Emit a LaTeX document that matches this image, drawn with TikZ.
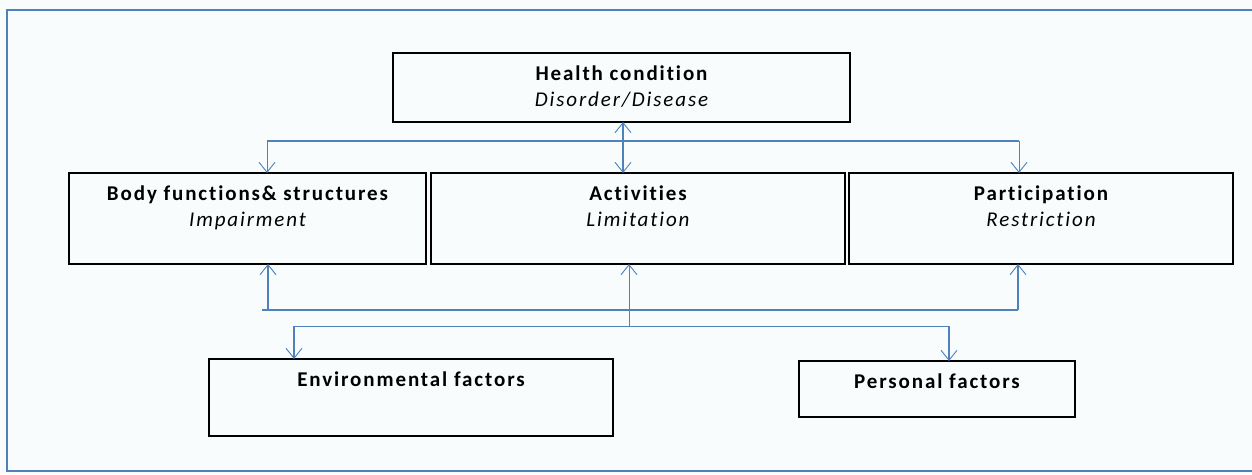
\documentclass[tikz,border=0pt]{standalone}
\usepackage{fontspec}
\setmainfont{Carlito}[LetterSpace=9,Ligatures=NoCommon]
\usetikzlibrary{arrows.meta,calc}
\definecolor{lnblue}{RGB}{79,129,189}
\definecolor{bgc}{RGB}{248,252,253}
\tikzset{
  box/.style={draw=black,line width=1.8pt,anchor=north west,inner sep=0pt,outer sep=0pt},
  ttl/.style={anchor=base,font=\fontsize{21}{24}\selectfont\bfseries,inner sep=0pt},
  sub/.style={anchor=base,font=\fontsize{21}{24}\selectfont\itshape,inner sep=0pt},
  conn/.style={draw=lnblue,line width=1.4pt},
  thinconn/.style={draw=lnblue,line width=0.9pt},
  tip/.style={-{Straight Barb[length=10pt,width=16pt,line width=0.9pt]}},
  dtip/.style={{Straight Barb[length=10pt,width=16pt,line width=0.9pt]}-{Straight Barb[length=10pt,width=16pt,line width=0.9pt]}}
}
\begin{document}
\begin{tikzpicture}[x=1pt,y=-1pt]
\useasboundingbox (0,0) rectangle (1252,474);
\fill[bgc] (0,0) rectangle (1252,474);
\draw[lnblue,line width=2.5pt] (7,10) rectangle (1262,471);
% boxes
\node[box,minimum width=457pt,minimum height=69pt] (health) at (393,53) {};
\node[box,minimum width=357pt,minimum height=91pt] (body) at (69,173) {};
\node[box,minimum width=414pt,minimum height=91pt] (act) at (431,173) {};
\node[box,minimum width=384pt,minimum height=91pt] (part) at (849,173) {};
\node[box,minimum width=404pt,minimum height=77pt] (env) at (209,359) {};
\node[box,minimum width=276pt,minimum height=56pt] (pers) at (799,361) {};
% texts
\node[ttl] (healtht) at ($(health.north)+(0,27)$) {Health condition};
\node[sub] (healths) at ($(health.north)+(0,53)$) {Disorder/Disease};
\node[ttl] (bodyt) at ($(body.north)+(0,27)$) {Body functions\& structures};
\node[sub] (bodys) at ($(body.north)+(0,53)$) {Impairment};
\node[ttl] (actt) at ($(act.north)+(0,27)$) {Activities};
\node[sub] (acts) at ($(act.north)+(0,53)$) {Limitation};
\node[ttl] (partt) at ($(part.north)+(0,27)$) {Participation};
\node[sub] (parts) at ($(part.north)+(0,53)$) {Restriction};
\node[ttl] (envt) at ($(env.north)+(0,27)$) {Environmental factors};
\node[ttl] (perst) at ($(pers.north)+(0,27)$) {Personal factors};
% junction coordinates
\coordinate (tl) at (267,141);
\coordinate (tr) at (1019,141);
\coordinate (ml) at (268,310);
\coordinate (mlx) at (262,310);
\coordinate (mr) at (1018,310);
\coordinate (bm) at (629,326);
\coordinate (bl) at (294,326);
\coordinate (br) at (949,326);
\coordinate (hc) at (623,122);
% top distribution
\draw[conn] (tl) -- (tr);
\draw[thinconn,tip] (tl) -- (tl |- body.north);
\draw[thinconn,tip] (tr) -- (tr |- part.north);
\draw[conn,dtip] (hc |- health.south) -- (hc |- act.north);
% middle
\draw[conn] (mlx) -- (mr);
\draw[conn,tip] (ml) -- (ml |- body.south);
\draw[conn,tip] (mr) -- (mr |- part.south);
% bottom
\draw[thinconn] (bl) -- (br);
\draw[thinconn,tip] (bm) -- (bm |- act.south);
\draw[conn,tip] (bl) -- (bl |- env.north);
\draw[conn,tip] (br) -- (br |- pers.north);
\end{tikzpicture}
\end{document}
